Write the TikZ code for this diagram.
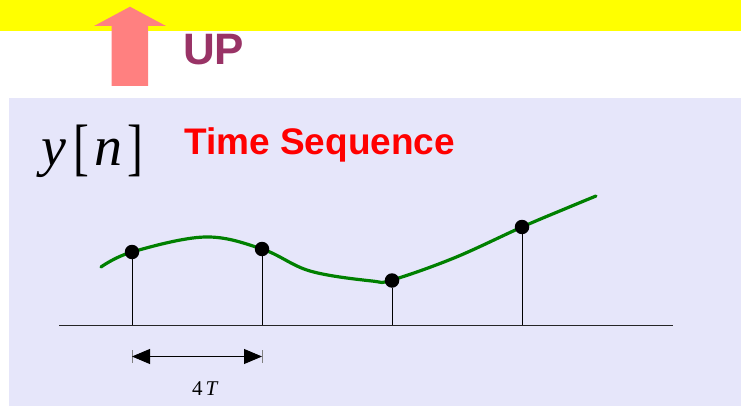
\documentclass[tikz,border=0pt]{standalone}
\usepackage{fontspec}
\usetikzlibrary{arrows.meta}
\newfontfamily\sansfam{Liberation Sans}
\newfontfamily\seriffam{Liberation Serif}
\definecolor{bandyellow}{HTML}{FFFF00}
\definecolor{panel}{RGB}{230,230,250}
\definecolor{uptext}{HTML}{993366}
\definecolor{salmon}{HTML}{FF8080}
\definecolor{curvegreen}{HTML}{008000}
\tikzset{
  sample/.style={circle,fill=black,inner sep=0pt,minimum size=14.5pt},
  stem/.style={draw=black,line width=0.8pt},
  dimtick/.style={draw=gray,line width=1pt},
  dimarrow/.style={line width=0.9pt,{Triangle[length=18pt,width=15pt]}-{Triangle[length=18pt,width=15pt]}},
  lbl/.style={inner sep=0pt,anchor=base west}
}
\begin{document}
\begin{tikzpicture}[x=1pt,y=-1pt]
\useasboundingbox (0,0) rectangle (741,406);
% background
\fill[bandyellow] (0,0) rectangle (741,31);
\fill[panel] (9,98) rectangle (741,406);
% up arrow
\fill[salmon] (111.5,86) -- (111.5,26) -- (94,26) -- (130,6.7) -- (166,26) -- (148,26) -- (148,86) -- cycle;
\node[lbl,text=uptext,font={\sansfam\bfseries\fontsize{44}{44}\selectfont}] (up) at (183,65) {UP};
% titles
\node[lbl,font={\seriffam\fontsize{56}{56}\selectfont}] (yn) at (41,166) {\itshape y\kern7pt\upshape\raisebox{-2pt}{\scalebox{0.85}[1.12]{[}}\kern6pt\itshape n\kern5pt\upshape\raisebox{-2pt}{\scalebox{0.85}[1.12]{]}}};
\node[lbl,text=red,font={\sansfam\bfseries\fontsize{37}{37}\selectfont}] (ts) at (184,155) {Time Sequence};
% axis
\coordinate (axl) at (59,325);
\coordinate (axr) at (673,325);
\draw[line width=0.9pt,black!85] (axl) -- (axr);
% curve
\draw[curvegreen,line width=3.2pt,line cap=round] plot[smooth,tension=0.6] coordinates {(101,267) (132,252) (205,237) (262,249) (310,271) (372,281) (392,280) (454,258) (522,227) (567,208) (596,196)};
% samples
\coordinate (f1) at (132,325);
\coordinate (f2) at (262,325);
\coordinate (f3) at (392,325);
\coordinate (f4) at (522,325);
\node[sample] (s1) at (132,252) {};
\node[sample] (s2) at (262,249) {};
\node[sample] (s3) at (392,280.5) {};
\node[sample] (s4) at (522,227) {};
\draw[stem] (f1) -- (s1);
\draw[stem] (f2) -- (s2);
\draw[stem] (f3) -- (s3);
\draw[stem] (f4) -- (s4);
% dimension
\coordinate (d1) at (132,356.5);
\coordinate (d2) at (262,356.5);
\coordinate (t1a) at (132,350);
\coordinate (t1b) at (132,363);
\coordinate (t2a) at (262,350);
\coordinate (t2b) at (262,363);
\draw[dimtick] (t1a) -- (t1b);
\draw[dimtick] (t2a) -- (t2b);
\draw[dimarrow] (d1) -- (d2);
\node[lbl,font={\seriffam\fontsize{21}{21}\selectfont}] (fourT) at (192,395) {4\kern3pt\itshape T};
\end{tikzpicture}
\end{document}
